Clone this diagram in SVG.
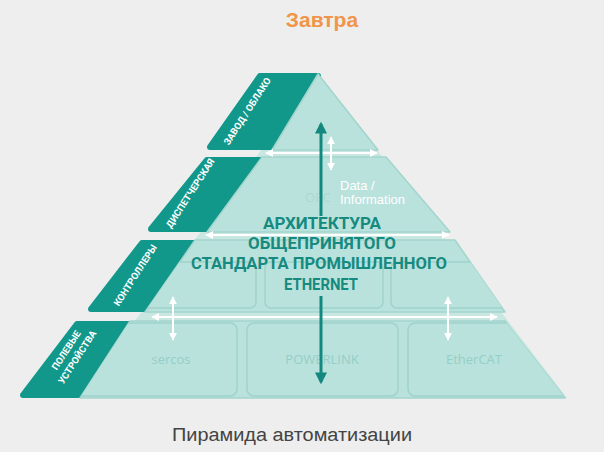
<svg xmlns="http://www.w3.org/2000/svg" width="604" height="452" viewBox="0 0 604 452">
<defs>
<style>
.tab{fill:#12988b;stroke:#12988b;stroke-width:6;stroke-linejoin:round}
.tier{fill:#bae2dc;stroke:#a2d5cd;stroke-width:1.5;stroke-linejoin:round}
.box{fill:#bae2dc;stroke:#9fd2ca;stroke-width:1.5}
.tt{font-family:Roboto,"Liberation Sans",sans-serif;font-weight:bold;font-size:9.5px;fill:#fff;text-anchor:middle}
.bl{font-family:"Open Sans","Liberation Sans",sans-serif;font-size:13px;fill:#93cfc6;text-anchor:middle}
.mt{font-family:Roboto,"DejaVu Sans",sans-serif;font-weight:bold;font-size:17px;fill:#168a80;text-anchor:middle}
.wa{stroke:#fff;stroke-width:2;fill:none}
.da{stroke:#12887e;stroke-width:3;fill:none}
</style>
<clipPath id="c3"><polygon points="195,240 455,240 505,312 145,312"/></clipPath>
<clipPath id="c4"><polygon points="130,321 505,321 565,398 80,398"/></clipPath>
<marker id="w" viewBox="0 0 10 10" refX="9" refY="5" markerWidth="4" markerHeight="4" orient="auto-start-reverse"><path d="M0,0L10,5L0,10z" fill="#fff"/></marker>
<marker id="d" viewBox="0 0 10 10" refX="8" refY="5" markerWidth="4" markerHeight="4" orient="auto"><path d="M0,0L10,5L0,10z" fill="#12887e"/></marker>
</defs>
<rect width="604" height="452" fill="#eeeeee"/>
<text x="322" y="27" font-family="Liberation Sans,Arial,sans-serif" font-weight="bold" font-size="21" fill="#f0954a" text-anchor="middle">Завтра</text>
<polygon points="318,73 567,398 78,398" fill="#c8e7e1"/>
<g id="tier1">
<polygon class="tab" points="260,76 318,76 272,147 210,147"/>
<polygon class="tier" points="318,74 378,150 272,150"/>
<text class="tt" transform="translate(250,113) rotate(-57)">ЗАВОД / ОБЛАКО</text>
</g>
<g id="tier2">
<polygon class="tab" points="207,160 262,160 214,229 151,229"/>
<polygon class="tier" points="262,157 386,157 450,232 207,232"/>
<text class="tt" transform="translate(193,195) rotate(-57)">ДИСПЕТЧЕРСКАЯ</text>
<text x="318" y="202" font-family="Open Sans,Liberation Sans,sans-serif" font-size="13" fill="#a9d9d2" text-anchor="middle">OPC</text>
</g>
<g id="tier3">
<polygon class="tab" points="142,243 198,243 150,309 91,309"/>
<polygon class="tier" points="195,240 455,240 505,312 145,312"/>
<g clip-path="url(#c3)">
<rect class="box" x="120" y="262" width="136" height="46" rx="6"/>
<rect class="box" x="265" y="262" width="118" height="46" rx="6"/>
<rect class="box" x="391" y="262" width="140" height="46" rx="6"/>
</g>
<text class="tt" transform="translate(138,277) rotate(-57)">КОНТРОЛЛЕРЫ</text>
</g>
<g id="tier4">
<polygon class="tab" points="77,324 133,324 83,395 23,395"/>
<polygon class="tier" points="130,321 505,321 565,398 80,398"/>
<g clip-path="url(#c4)">
<rect class="box" x="50" y="323" width="187" height="73" rx="7"/>
<rect class="box" x="247" y="323" width="151" height="73" rx="7"/>
<rect class="box" x="408" y="323" width="180" height="73" rx="7"/>
</g>
<text class="tt" transform="translate(69,352) rotate(-57)">ПОЛЕВЫЕ</text>
<text class="tt" transform="translate(80,359) rotate(-57)">УСТРОЙСТВА</text>
<text class="bl" x="171" y="364">sercos</text>
<text class="bl" x="322" y="364">POWERLINK</text>
<text class="bl" x="474" y="364">EtherCAT</text>
</g>
<g id="connectors">
<line class="wa" x1="266" y1="153" x2="377" y2="153" marker-start="url(#w)" marker-end="url(#w)"/>
<line class="wa" x1="206" y1="235" x2="449" y2="235" marker-start="url(#w)" marker-end="url(#w)"/>
<line class="wa" x1="152" y1="317" x2="497" y2="317" marker-start="url(#w)" marker-end="url(#w)"/>
<line class="wa" x1="331" y1="137" x2="331" y2="170" marker-start="url(#w)" marker-end="url(#w)"/>
<line class="wa" x1="173" y1="297" x2="173" y2="340" marker-start="url(#w)" marker-end="url(#w)"/>
<line class="wa" x1="448" y1="297" x2="448" y2="340" marker-start="url(#w)" marker-end="url(#w)"/>
<line class="da" x1="321" y1="216" x2="321" y2="124" marker-end="url(#d)"/>
<line class="da" x1="321" y1="296" x2="321" y2="382" marker-end="url(#d)"/>
</g>
<text x="340" y="190" font-family="Liberation Sans,Arial,sans-serif" font-size="13" fill="#fff">Data /</text>
<text x="340" y="204" font-family="Liberation Sans,Arial,sans-serif" font-size="13" fill="#fff">Information</text>
<text class="mt" x="322" y="229" textLength="118" lengthAdjust="spacingAndGlyphs">АРХИТЕКТУРА</text>
<text class="mt" x="322" y="249" textLength="148" lengthAdjust="spacingAndGlyphs">ОБЩЕПРИНЯТОГО</text>
<text class="mt" x="319" y="269" textLength="256" lengthAdjust="spacingAndGlyphs">СТАНДАРТА ПРОМЫШЛЕННОГО</text>
<text class="mt" x="321" y="290" textLength="74" lengthAdjust="spacingAndGlyphs">ETHERNET</text>
<text x="292" y="441" font-family="Liberation Sans,Arial,sans-serif" font-size="18" fill="#444" text-anchor="middle" textLength="240" lengthAdjust="spacingAndGlyphs">Пирамида автоматизации</text>
</svg>
